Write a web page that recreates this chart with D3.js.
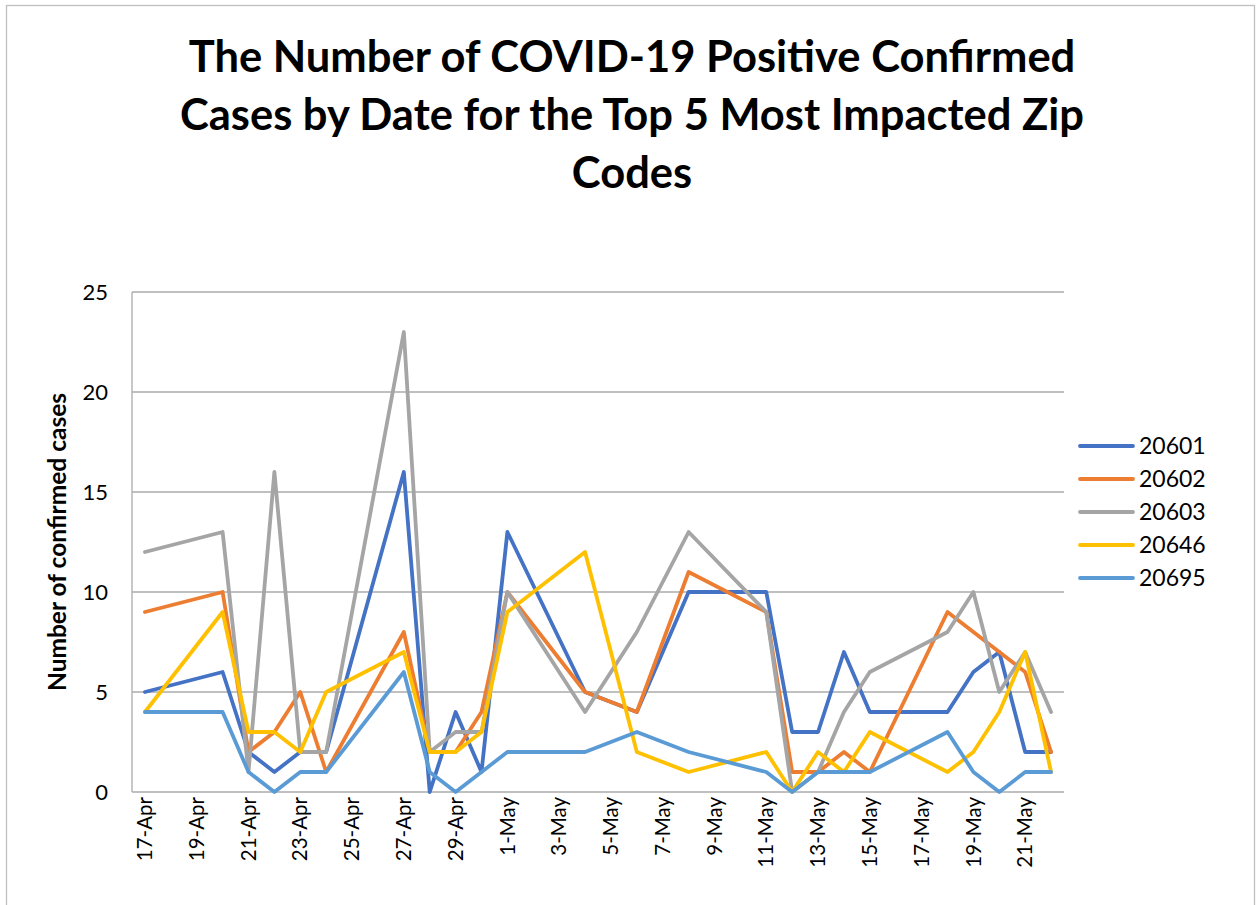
<!DOCTYPE html>
<html>
<head>
<meta charset="utf-8">
<script src="https://cdn.jsdelivr.net/npm/d3@7"></script>
<style>
  body { margin: 0; background: #fff; }
  text { font-family: Lato, "Open Sans", sans-serif; fill: #000; }
</style>
</head>
<body>
<svg id="chart"></svg>
<script>
var W = 1259, H = 905;
var margin = { top: 292, right: 195, bottom: 113, left: 132 },
    width = W - margin.left - margin.right,
    height = H - margin.top - margin.bottom;

// dates that have data (lines jump over the missing days)
var dates = ["2020-04-17", "2020-04-20", "2020-04-21", "2020-04-22", "2020-04-23", "2020-04-24",
  "2020-04-27", "2020-04-28", "2020-04-29", "2020-04-30", "2020-05-01", "2020-05-04",
  "2020-05-06", "2020-05-08", "2020-05-11", "2020-05-12", "2020-05-13", "2020-05-14",
  "2020-05-15", "2020-05-18", "2020-05-19", "2020-05-20", "2020-05-21", "2020-05-22"];

var zip20601 = [5, 6, 2, 1, 2, 2, 16, 0, 4, 1, 13, 5, 4, 10, 10, 3, 3, 7, 4, 4, 6, 7, 2, 2];
var zip20602 = [9, 10, 2, 3, 5, 1, 8, 2, 2, 4, 10, 5, 4, 11, 9, 1, 1, 2, 1, 9, 8, 7, 6, 2];
var zip20603 = [12, 13, 1, 16, 2, 2, 23, 2, 3, 3, 10, 4, 8, 13, 9, 0, 1, 4, 6, 8, 10, 5, 7, 4];
var zip20646 = [4, 9, 3, 3, 2, 5, 7, 2, 2, 3, 9, 12, 2, 1, 2, 0, 2, 1, 3, 1, 2, 4, 7, 1];
var zip20695 = [4, 4, 1, 0, 1, 1, 6, 1, 0, 1, 2, 2, 3, 2, 1, 0, 1, 1, 1, 3, 1, 0, 1, 1];

var seriesNames = ["20601", "20602", "20603", "20646", "20695"];
var seriesValues = [zip20601, zip20602, zip20603, zip20646, zip20695];
var colors = ["#4472C4", "#ED7D31", "#A5A5A5", "#FFC000", "#5B9BD5"];

var yTicks = [0, 5, 10, 15, 20, 25];
var titleLines = ["The Number of COVID-19 Positive Confirmed",
  "Cases by Date for the Top 5 Most Impacted Zip", "Codes"];

var parse = d3.timeParse("%Y-%m-%d");
var fmt = d3.timeFormat("%-d-%b");
var allDays = d3.timeDay.range(parse(dates[0]), d3.timeDay.offset(parse(dates[dates.length - 1]), 1));

var svg = d3.select("#chart")
    .attr("width", W)
    .attr("height", H);

svg.append("rect")
    .attr("x", 6.5).attr("y", 5.5)
    .attr("width", 1248).attr("height", 940)
    .attr("fill", "#fff")
    .attr("stroke", "#BFBFBF")
    .attr("stroke-width", 1.3);

// title, sized so the first line fills the same width as the original
var title = svg.append("g").attr("font-weight", "bold");
var tl = title.selectAll("text")
    .data(titleLines)
    .enter().append("text")
    .attr("x", 632)
    .attr("y", function(d, i) { return 72 + i * 58; })
    .attr("text-anchor", "middle")
    .attr("font-size", 40)
    .text(function(d) { return d; });
var w0 = tl.node().getComputedTextLength();
tl.attr("font-size", 40 * 887 / w0);

var g = svg.append("g")
    .attr("transform", "translate(" + margin.left + "," + margin.top + ")");

var x = d3.scaleBand()
    .domain(allDays.map(fmt))
    .range([0, width]);

var y = d3.scaleLinear()
    .domain([0, 25])
    .range([height, 0]);

// gridlines
g.append("g")
    .selectAll("line")
    .data(yTicks)
    .enter().append("line")
    .attr("x1", 0).attr("x2", width)
    .attr("y1", function(d) { return y(d); })
    .attr("y2", function(d) { return y(d); })
    .attr("stroke", "#ABABAB")
    .attr("stroke-width", 1.3);

g.append("line")
    .attr("x1", 0).attr("x2", 0)
    .attr("y1", 0).attr("y2", height)
    .attr("stroke", "#ABABAB")
    .attr("stroke-width", 1.3);

var yAxis = g.append("g")
    .call(d3.axisLeft(y).tickValues(yTicks).tickSize(0).tickPadding(24));
yAxis.select(".domain").remove();
yAxis.selectAll("text")
    .attr("font-size", 22)
    .style("font-family", "Lato, sans-serif")
    .attr("fill", "#000");

var xAxis = g.append("g")
    .attr("transform", "translate(0," + height + ")")
    .call(d3.axisBottom(x)
        .tickValues(x.domain().filter(function(d, i) { return i % 2 === 0; }))
        .tickSize(0));
xAxis.select(".domain").remove();
xAxis.selectAll("text")
    .attr("font-size", 20.5)
    .style("font-family", "Lato, sans-serif")
    .attr("fill", "#000")
    .attr("text-anchor", "end")
    .attr("transform", "rotate(-90)")
    .attr("x", -5)
    .attr("y", 0)
    .attr("dy", "0.35em");

svg.append("text")
    .attr("transform", "translate(66,542) rotate(-90)")
    .attr("text-anchor", "middle")
    .attr("font-weight", "bold")
    .attr("font-size", 24.5)
    .text("Number of confirmed cases");

var line = d3.line()
    .x(function(d) { return x(fmt(parse(d.date))) + x.bandwidth() / 2; })
    .y(function(d) { return y(d.value); });

seriesNames.forEach(function(name, s) {
    var pts = dates.map(function(d, i) { return { date: d, value: seriesValues[s][i] }; });
    g.append("path")
        .datum(pts)
        .attr("d", line)
        .attr("fill", "none")
        .attr("stroke", colors[s])
        .attr("stroke-width", 3.8)
        .attr("stroke-linejoin", "round")
        .attr("stroke-linecap", "round");
});

var legend = svg.append("g")
    .selectAll("g")
    .data(seriesNames)
    .enter().append("g")
    .attr("transform", function(d, i) { return "translate(1080," + (446 + i * 33) + ")"; });

legend.append("line")
    .attr("x1", 0).attr("x2", 53)
    .attr("stroke", function(d, i) { return colors[i]; })
    .attr("stroke-width", 3.8)
    .attr("stroke-linecap", "round");

legend.append("text")
    .attr("x", 59)
    .attr("dy", "0.36em")
    .attr("font-size", 23)
    .text(function(d) { return d; });
</script>
</body>
</html>
